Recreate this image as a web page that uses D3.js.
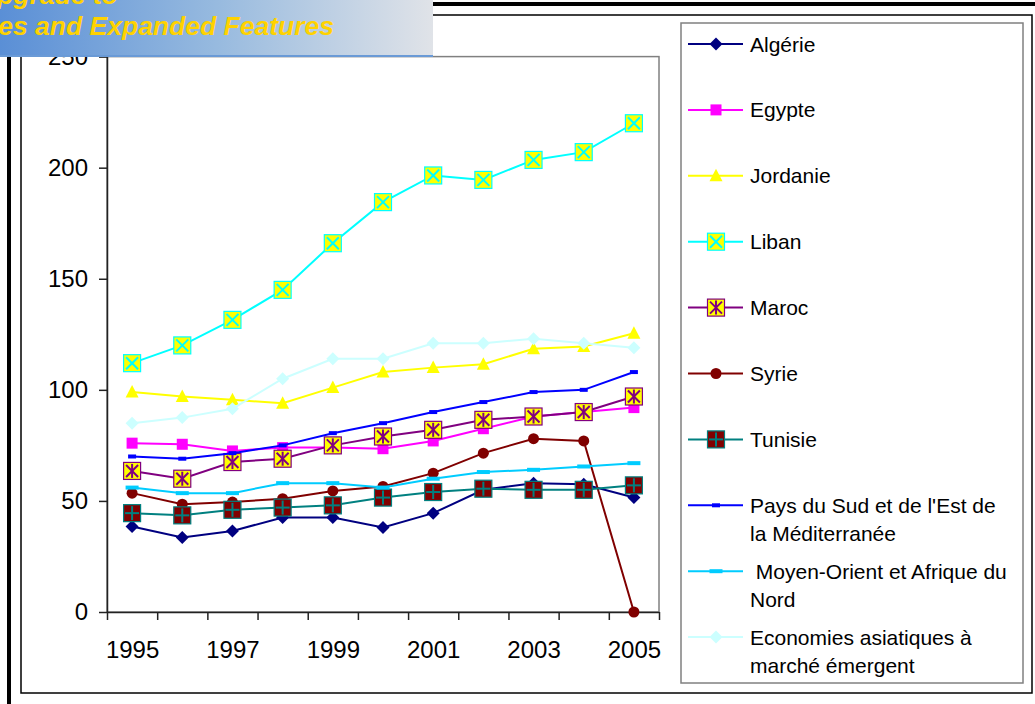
<!DOCTYPE html>
<html>
<head>
<meta charset="utf-8">
<script src="https://cdn.jsdelivr.net/npm/d3@7"></script>
<style>
  body { margin: 0; background: #fff; }
  svg { display: block; font-family: "Liberation Sans", Arial, sans-serif; }
</style>
</head>
<body>
<script>
// size of the page
const width = 1035;
const height = 704;

// categories and tick labels
var years = [1995, 1996, 1997, 1998, 1999, 2000, 2001, 2002, 2003, 2004, 2005];
var yearLabels = [1995, 1997, 1999, 2001, 2003, 2005];
var yTicks = [0, 50, 100, 150, 200, 250];

// values, one array per country / region
var algerie = [38.5, 33.5, 36.5, 42.5, 42.5, 38, 44.5, 55, 58, 57.5, 51.5];
var egypte = [76, 75.5, 72.5, 74, 74, 73.5, 77, 82.5, 88, 90, 92];
var jordanie = [99, 97, 95.5, 94, 101, 108, 110, 111.5, 118.5, 119.5, 125.5];
var liban = [112, 120, 131.5, 145, 166, 184.5, 196.5, 194.5, 203.5, 207, 220];
var maroc = [63.5, 60, 67.5, 69, 75, 79, 82, 86.5, 88, 90, 97];
var syrie = [53.5, 48.5, 49.5, 51, 54.5, 56.5, 62.5, 71.5, 78, 77, 0];
var tunisie = [44.5, 43.5, 46, 47, 48, 51.5, 54, 55.5, 55, 55, 57];
var paysSEM = [70, 69, 71.5, 75, 80.5, 85, 90, 94.5, 99, 100, 108];
var moyenOrient = [56, 53.5, 53.5, 58, 58, 56, 60, 63, 64, 65.5, 67];
var asiatiques = [85, 87.5, 91.5, 105, 114, 114, 121, 121, 123, 121, 119];

// legend texts (two lines where the legend wraps)
var seriesNames = [
  ["Algérie"],
  ["Egypte"],
  ["Jordanie"],
  ["Liban"],
  ["Maroc"],
  ["Syrie"],
  ["Tunisie"],
  ["Pays du Sud et de l'Est de", "la Méditerranée"],
  [" Moyen-Orient et Afrique du", "Nord"],
  ["Economies asiatiques à", "marché émergent"]
];

var series = [
  { values: algerie, color: "#000080", kind: "diamond", fill: "#000080", edge: "#000080" },
  { values: egypte, color: "#ff00ff", kind: "square", fill: "#ff00ff", edge: "#ff00ff" },
  { values: jordanie, color: "#ffff00", kind: "triangle", fill: "#ffff00", edge: "#ffff00" },
  { values: liban, color: "#00ffff", kind: "boxX", fill: "#ffff00", edge: "#00ffff" },
  { values: maroc, color: "#800080", kind: "boxStar", fill: "#ffff00", edge: "#800080" },
  { values: syrie, color: "#800000", kind: "circle", fill: "#800000", edge: "#800000" },
  { values: tunisie, color: "#008080", kind: "boxPlus", fill: "#800000", edge: "#008080" },
  { values: paysSEM, color: "#0000ff", kind: "dash", fill: "#0000ff", edge: "#0000ff" },
  { values: moyenOrient, color: "#00ccff", kind: "wideDash", fill: "#00ccff", edge: "#00ccff" },
  { values: asiatiques, color: "#ccffff", kind: "diamond", fill: "#ccffff", edge: "#ccffff" }
];

var svg = d3.select("body").append("svg")
  .attr("width", width)
  .attr("height", height);

// outer frames
svg.append("line").attr("x1", 0).attr("x2", width).attr("y1", 4).attr("y2", 4)
  .attr("stroke", "#000").attr("stroke-width", 4);
svg.append("line").attr("x1", 9).attr("x2", 9).attr("y1", 0).attr("y2", height)
  .attr("stroke", "#000").attr("stroke-width", 4);
svg.append("rect").attr("x", 21).attr("y", 15).attr("width", 1011).attr("height", 678)
  .attr("fill", "#fff").attr("stroke", "#000").attr("stroke-width", 1.5);

// scales
var x = d3.scaleLinear().domain([1994.5, 2005.5]).range([107, 659]);
var y = d3.scaleLinear().domain([0, 250]).range([612, 56.6]);

// plot area border
svg.append("rect")
  .attr("x", x(1994.5)).attr("y", y(250))
  .attr("width", x(2005.5) - x(1994.5)).attr("height", y(0) - y(250))
  .attr("fill", "none").attr("stroke", "#808080").attr("stroke-width", 1.5);

// y axis
var yAxis = svg.append("g")
  .attr("transform", "translate(" + x(1994.5) + ",0)")
  .call(d3.axisLeft(y).tickValues(yTicks).tickSize(8).tickPadding(11).tickSizeOuter(0));

// x axis: ticks between categories, labels every second year
var xTicks = d3.range(1994.5, 2006, 1);
var xAxis = svg.append("g")
  .attr("transform", "translate(0," + y(0) + ")")
  .call(d3.axisBottom(x).tickValues(xTicks).tickSize(8).tickFormat("").tickSizeOuter(0));
var xLab = svg.append("g")
  .attr("transform", "translate(0," + y(0) + ")")
  .call(d3.axisBottom(x).tickValues(yearLabels).tickSize(0).tickPadding(29).tickFormat(d3.format("d")));
xLab.select(".domain").remove();

svg.selectAll(".tick text")
  .style("font-family", "'Liberation Sans', Arial, sans-serif")
  .style("font-size", "24px")
  .attr("fill", "#000");
svg.selectAll(".domain, .tick line").attr("stroke", "#222").attr("stroke-width", 1.5);

// draws one marker centred on cx, cy
function marker(g, s, cx, cy) {
  var m = g.append("g").attr("transform", "translate(" + cx + "," + cy + ")");
  if (s.kind == "diamond") {
    m.append("path").attr("d", "M0,-6.5L6.5,0L0,6.5L-6.5,0Z").attr("fill", s.fill);
  } else if (s.kind == "square") {
    m.append("rect").attr("x", -5.5).attr("y", -5.5).attr("width", 11).attr("height", 11).attr("fill", s.fill);
  } else if (s.kind == "triangle") {
    m.append("path").attr("d", "M0,-7L6.5,5.5L-6.5,5.5Z").attr("fill", s.fill);
  } else if (s.kind == "circle") {
    m.append("circle").attr("r", 5.5).attr("fill", s.fill);
  } else if (s.kind == "dash") {
    m.append("rect").attr("x", -4).attr("y", -2).attr("width", 8).attr("height", 4).attr("fill", s.fill);
  } else if (s.kind == "wideDash") {
    m.append("rect").attr("x", -6.5).attr("y", -2).attr("width", 13).attr("height", 4).attr("fill", s.fill);
  } else {
    // boxes with a cross, an asterisk or a plus inside
    m.append("rect").attr("x", -8.5).attr("y", -8.5).attr("width", 17).attr("height", 17)
      .attr("fill", s.fill).attr("stroke", s.edge).attr("stroke-width", 1.2);
    var lines = [];
    if (s.kind == "boxX" || s.kind == "boxStar") lines.push([-6, -6, 6, 6], [-6, 6, 6, -6]);
    if (s.kind == "boxStar") lines.push([0, -7, 0, 7]);
    if (s.kind == "boxPlus") lines.push([-7, 0, 7, 0], [0, -7, 0, 7]);
    lines.forEach(function (l) {
      m.append("line").attr("x1", l[0]).attr("y1", l[1]).attr("x2", l[2]).attr("y2", l[3])
        .attr("stroke", s.edge).attr("stroke-width", 2);
    });
  }
}

// series lines and markers
var line = d3.line()
  .x(function (d, i) { return x(years[i]); })
  .y(function (d) { return y(d); });

series.forEach(function (s) {
  var g = svg.append("g");
  g.append("path")
    .attr("d", line(s.values))
    .attr("fill", "none")
    .attr("stroke", s.color)
    .attr("stroke-width", 2);
  s.values.forEach(function (v, i) {
    marker(g, s, x(years[i]), y(v));
  });
});

// legend
svg.append("rect").attr("x", 681).attr("y", 23).attr("width", 342).attr("height", 660)
  .attr("fill", "#fff").attr("stroke", "#808080").attr("stroke-width", 1.5);

series.forEach(function (s, i) {
  var ly = 44 + i * 65.9;
  var g = svg.append("g");
  g.append("line").attr("x1", 688).attr("x2", 743).attr("y1", ly).attr("y2", ly)
    .attr("stroke", s.color).attr("stroke-width", 2);
  marker(g, s, 716, ly);
  seriesNames[i].forEach(function (t, j) {
    g.append("text")
      .attr("x", 750)
      .attr("y", ly + 7.5 + j * 28)
      .attr("font-size", "21px")
      .attr("fill", "#000")
      .style("white-space", "pre")
      .text(t);
  });
});

// watermark banner in the top left corner
var grad = svg.append("defs").append("linearGradient").attr("id", "banner");
grad.append("stop").attr("offset", "0%").attr("stop-color", "#5a8fd6");
grad.append("stop").attr("offset", "50%").attr("stop-color", "#97badf");
grad.append("stop").attr("offset", "100%").attr("stop-color", "#e0e3e8");
svg.append("rect").attr("x", 0).attr("y", 0).attr("width", 433).attr("height", 57)
  .attr("fill", "url(#banner)");
svg.append("line").attr("x1", 0).attr("x2", 433).attr("y1", 56).attr("y2", 56)
  .attr("stroke", "#6a9ad6").attr("stroke-width", 2);
svg.append("text").attr("x", 118).attr("y", 4).attr("text-anchor", "end")
  .attr("font-size", "26.5px").attr("font-weight", "bold").attr("font-style", "italic")
  .attr("fill", "#ffd200").text("pgrade to");
svg.append("text").attr("x", 334).attr("y", 35).attr("text-anchor", "end")
  .attr("font-size", "26.5px").attr("font-weight", "bold").attr("font-style", "italic")
  .attr("fill", "#ffd200").text("es and Expanded Features");
</script>
</body>
</html>
